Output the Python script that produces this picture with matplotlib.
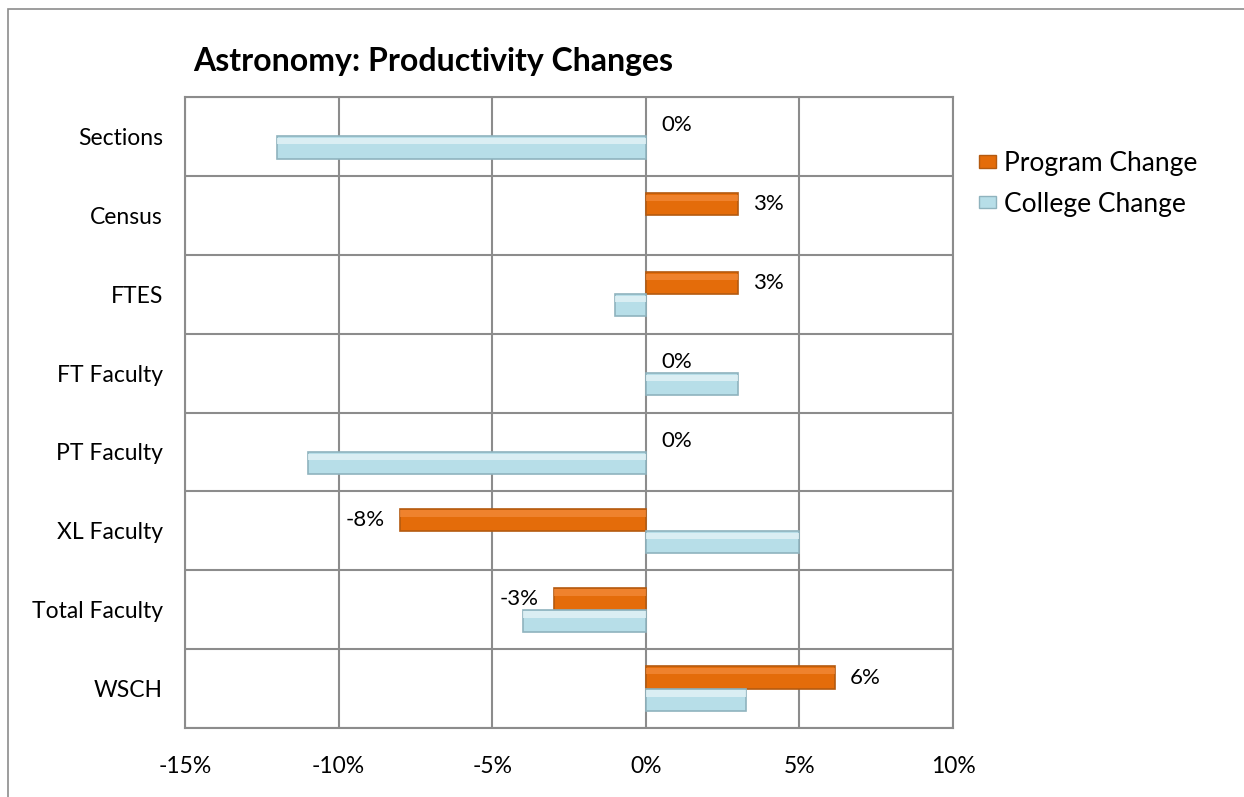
import matplotlib.pyplot as plt
import matplotlib.patches as patches
import numpy as np

plt.rcParams['font.family'] = ['Lato', 'DejaVu Sans']

# datos (en %)
categorias = ['Sections', 'Census', 'FTES', 'FT Faculty', 'PT Faculty',
              'XL Faculty', 'Total Faculty', 'WSCH']
program_change = [0, 3, 3, 0, 0, -8, -3, 6.15]
college_change = [-12, 0, -1, 3, -11, 5, -4, 3.25]
program_labels = ['0%', '3%', '3%', '0%', '0%', '-8%', '-3%', '6%']

fig = plt.figure(figsize=(12.44, 7.97), dpi=100)
ax = fig.add_axes([185/1244, 1-728/797, (953-185)/1244, (728-97)/797])

# marco exterior del grafico
marco = patches.Rectangle((8/1244, -0.1), 1.2, 1-9/797+0.1, transform=fig.transFigure,
                          fill=False, edgecolor='#8c8c8c', linewidth=1.2)
fig.patches.append(marco)

n = len(categorias)
y = np.arange(n)[::-1]  # Sections arriba
h = 0.28

lw_p = [0 if v == 0 else 1.2 for v in program_change]
lw_c = [0 if v == 0 else 1.2 for v in college_change]
ax.barh(y + h/2, program_change, height=h, color='#E46C0A', edgecolor='#B45A10',
        linewidth=lw_p, zorder=3)
ax.barh(y - h/2, college_change, height=h, color='#B7DEE8', edgecolor='#8FB3BE',
        linewidth=lw_c, zorder=3)
# efecto bisel: franja clara arriba
ax.barh(y + h/2 + h*0.28, program_change, height=h*0.28, color='#F58C3C',
        linewidth=0, zorder=4, alpha=0.7)
ax.barh(y - h/2 + h*0.28, college_change, height=h*0.28, color='#E4F3F7',
        linewidth=0, zorder=4, alpha=0.8)

for yi, v, t in zip(y, program_change, program_labels):
    if v < 0:
        ax.annotate(t, (v, yi + h/2), xytext=(-11, 0), textcoords='offset points',
                    ha='right', va='center', fontsize=16)
    else:
        ax.annotate(t, (v, yi + h/2), xytext=(11, 0), textcoords='offset points',
                    ha='left', va='center', fontsize=16)

ax.set_xlim(-15, 10)
ax.set_ylim(-0.5, n - 0.5)
ax.set_xticks(np.arange(-15, 11, 5))
ax.set_xticklabels([f'{v}%' for v in range(-15, 11, 5)], fontsize=16.5)
ax.set_yticks(y)
ax.set_yticklabels(categorias, fontsize=16.5)
ax.set_yticks(np.arange(-0.5, n, 1), minor=True)
ax.tick_params(axis='both', which='both', length=0)
ax.tick_params(axis='x', pad=20)
ax.tick_params(axis='y', pad=16)

ax.grid(True, axis='x', which='major', color='#8c8c8c', linewidth=1.5, zorder=0)
ax.grid(True, axis='y', which='minor', color='#8c8c8c', linewidth=1.5, zorder=0)
ax.grid(False, axis='y', which='major')
for s in ax.spines.values():
    s.set_color('#8c8c8c')
    s.set_linewidth(1.5)

fig.text(193/1244, 1-61/797, 'Astronomy: Productivity Changes', fontsize=23,
         fontweight='bold', va='center', ha='left')

handles = [patches.Patch(facecolor='#E46C0A', edgecolor='#B45A10'),
           patches.Patch(facecolor='#B7DEE8', edgecolor='#8FB3BE')]
fig.legend(handles, ['Program Change', 'College Change'], loc='upper left',
           bbox_to_anchor=(955/1244, 1-127/797), frameon=False,
           fontsize=19, handlelength=0.65, handleheight=0.35, handletextpad=0.3,
           labelspacing=0.6)

plt.savefig('out.png', dpi=100)
